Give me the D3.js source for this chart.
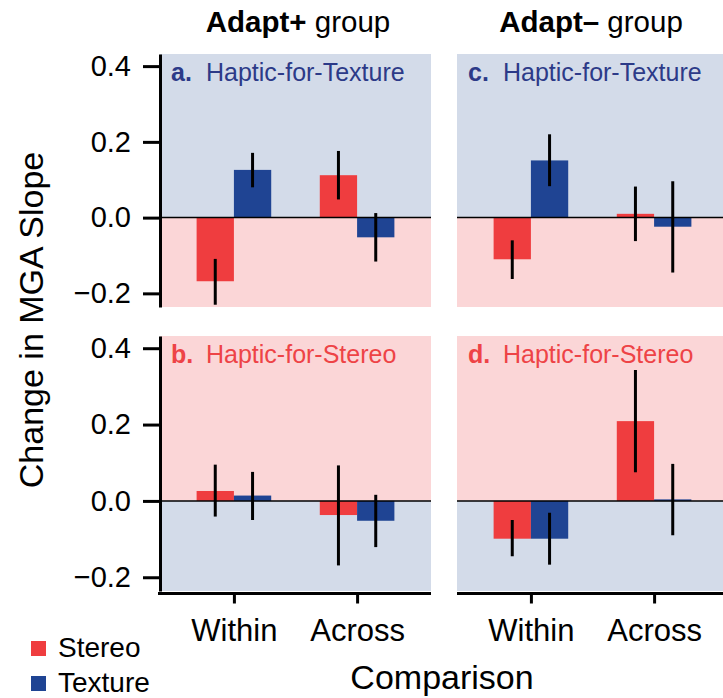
<!DOCTYPE html>
<html>
<head>
<meta charset="utf-8">
<script src="https://cdn.jsdelivr.net/npm/d3@7"></script>
<style>
  body { margin: 0; background: #fff; }
  svg { display: block; font-family: "Liberation Sans", Arial, Helvetica, sans-serif; }
</style>
</head>
<body>
<div id="chart"></div>
<script>
// data (panels in order a, b, c, d)
var groups = ["Adapt+", "Adapt\u2013"];
var conditions = ["Haptic-for-Texture", "Haptic-for-Stereo"];
var letters = ["a", "b", "c", "d"];
var comparisons = ["Within", "Across"];
var cues = ["Stereo", "Texture"];
var yTicks = [-0.2, 0.0, 0.2, 0.4];

// [within, across]
var stereoMean = [[-0.168, 0.112], [0.026, -0.037], [-0.110, 0.010], [-0.099, 0.209]];
var stereoLo   = [[-0.230, 0.048], [-0.041, -0.169], [-0.162, -0.062], [-0.145, 0.075]];
var stereoHi   = [[-0.109, 0.176], [0.095, 0.093], [-0.060, 0.082], [-0.050, 0.343]];
var textureMean = [[0.126, -0.052], [0.014, -0.052], [0.151, -0.024], [-0.099, 0.004]];
var textureLo   = [[0.080, -0.116], [-0.050, -0.121], [0.083, -0.145], [-0.167, -0.090]];
var textureHi   = [[0.171, 0.012], [0.076, 0.016], [0.220, 0.096], [-0.031, 0.097]];

var colors = { Stereo: "#ef3d3f", Texture: "#1f4493" };
var bgBlue = "#d3dbe9", bgPink = "#fbd6d7";
var labelColors = ["#2c3a88", "#ee4346"];

var width = 723, height = 698;
var panelW = 271;
var panelX = [160, 457];
var panelY = [54, 336];
var panelH = [253, 255];

var svg = d3.select("#chart").append("svg")
    .attr("width", width)
    .attr("height", height);

var x = d3.scalePoint().domain(comparisons).range([0, panelW]).padding(0.6);
var bw = 37.3;

letters.forEach(function(letter, p) {
    var col = Math.floor(p / 2), row = p % 2;
    var h = panelH[row];
    var y = d3.scaleLinear().domain([-0.236, 0.432]).range([h, 0]);
    var g = svg.append("g")
        .attr("transform", "translate(" + panelX[col] + "," + panelY[row] + ")");

    // backgrounds: the half that favours the cue is tinted with its colour
    var upper = row === 0 ? bgBlue : bgPink;
    var lower = row === 0 ? bgPink : bgBlue;
    g.append("rect").attr("x", 0).attr("y", 0)
        .attr("width", panelW).attr("height", y(0)).attr("fill", upper);
    g.append("rect").attr("x", 0).attr("y", y(0))
        .attr("width", panelW).attr("height", h - y(0)).attr("fill", lower);

    var rows = [];
    comparisons.forEach(function(c, i) {
        rows.push({ comp: c, cue: "Stereo", v: stereoMean[p][i], lo: stereoLo[p][i], hi: stereoHi[p][i] });
        rows.push({ comp: c, cue: "Texture", v: textureMean[p][i], lo: textureLo[p][i], hi: textureHi[p][i] });
    });
    var bx = function(d) { return x(d.comp) + (d.cue === "Stereo" ? -bw : 0); };

    g.selectAll("rect.bar").data(rows).enter().append("rect")
        .attr("class", "bar")
        .attr("x", bx)
        .attr("width", bw)
        .attr("y", function(d) { return y(Math.max(0, d.v)); })
        .attr("height", function(d) { return Math.abs(y(d.v) - y(0)); })
        .attr("fill", function(d) { return colors[d.cue]; });

    g.append("line")
        .attr("x1", 0).attr("x2", panelW)
        .attr("y1", y(0)).attr("y2", y(0))
        .attr("stroke", "#000").attr("stroke-width", 1.5);

    g.selectAll("line.err").data(rows).enter().append("line")
        .attr("class", "err")
        .attr("x1", function(d) { return bx(d) + bw / 2; })
        .attr("x2", function(d) { return bx(d) + bw / 2; })
        .attr("y1", function(d) { return y(d.lo); })
        .attr("y2", function(d) { return y(d.hi); })
        .attr("stroke", "#000").attr("stroke-width", 3);

    // panel label
    var lab = g.append("g").attr("fill", labelColors[row]).style("font-size", "25px");
    lab.append("text").attr("x", 11).attr("y", 27).style("font-weight", "bold").text(letter + ".");
    lab.append("text").attr("x", 46).attr("y", 27).text(conditions[row]);

    if (col === 0) {
        var ya = g.append("g")
            .call(d3.axisLeft(y).tickValues(yTicks).tickSize(17).tickSizeOuter(0).tickPadding(12)
                .tickFormat(d3.format(".1f")));
        ya.selectAll("path, line").attr("stroke-width", 3);
        ya.selectAll("text").style("font-size", "29px").attr("fill", "#000");
    }
    if (row === 1) {
        var xa = g.append("g").attr("transform", "translate(0," + (h + 2.5) + ")")
            .call(d3.axisBottom(x).tickSize(10).tickSizeOuter(0).tickPadding(15));
        xa.select(".domain").attr("d", "M" + (col === 0 ? -2 : 0) + ",0H" + panelW);
        xa.selectAll("path, line").attr("stroke-width", 3);
        xa.selectAll("text").style("font-size", "31px").attr("fill", "#000");
    }
});

// group titles
groups.forEach(function(gr, i) {
    var t = svg.append("text")
        .attr("x", [298, 591][i]).attr("y", 32)
        .attr("text-anchor", "middle")
        .style("font-size", "29.5px");
    t.append("tspan").style("font-weight", "bold").text(gr);
    t.append("tspan").text(" group");
});

svg.append("text")
    .attr("transform", "translate(43,320) rotate(-90)")
    .attr("text-anchor", "middle")
    .style("font-size", "34px")
    .text("Change in MGA Slope");

svg.append("text")
    .attr("x", 442).attr("y", 689)
    .attr("text-anchor", "middle")
    .style("font-size", "34px")
    .text("Comparison");

// legend
var leg = svg.selectAll("g.leg").data(cues).enter().append("g")
    .attr("class", "leg")
    .attr("transform", function(d, i) { return "translate(31," + (641 + i * 35) + ")"; });
leg.append("rect").attr("width", 15).attr("height", 15)
    .attr("fill", function(d) { return colors[d]; });
leg.append("text").attr("x", 27).attr("y", 16)
    .style("font-size", "28px")
    .text(function(d) { return d; });
</script>
</body>
</html>
